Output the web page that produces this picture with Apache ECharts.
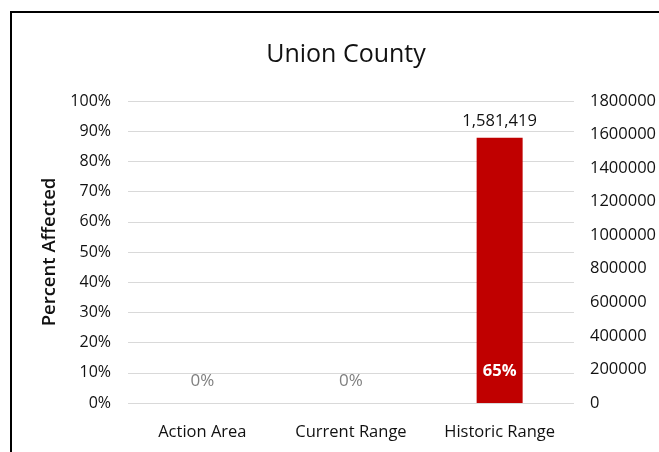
<!DOCTYPE html>
<html>
<head>
<meta charset="utf-8">
<style>
  html, body { margin: 0; padding: 0; background: #fff; }
  #chart { width: 659px; height: 452px; }
</style>
<script src="https://cdn.jsdelivr.net/npm/echarts@6/dist/echarts.min.js"></script>
</head>
<body>
<div id="chart"></div>
<script>
// Categories along the bottom axis
const categories = ['Action Area', 'Current Range', 'Historic Range'];
// Share of the area affected (left axis, fraction)
const percentAffected = [0, 0, 0.65];
// Count on the right axis
const totals = [null, null, 1581419];
// Left axis ticks (fractions) and right axis ticks
const leftTicks = [0, 0.1, 0.2, 0.3, 0.4, 0.5, 0.6, 0.7, 0.8, 0.9, 1.0];
const rightTicks = [0, 200000, 400000, 600000, 800000, 1000000, 1200000, 1400000, 1600000, 1800000];

const FONT = '"Open Sans", sans-serif';
const chart = echarts.init(document.getElementById('chart'));

chart.setOption({
  animation: false,
  textStyle: { fontFamily: FONT },
  graphic: [{
    type: 'rect',
    shape: { x: 11, y: 12, width: 720, height: 520 },
    style: { fill: 'none', stroke: '#000', lineWidth: 2 },
    silent: true
  }],
  title: {
    text: 'Union County',
    left: 341, top: 37, textAlign: 'center',
    textStyle: { fontFamily: FONT, fontSize: 25, fontWeight: 'normal', color: '#111' }
  },
  grid: { left: 128, right: 85, top: 101, bottom: 49 },
  xAxis: {
    type: 'category',
    data: categories,
    axisLine: { show: false },
    axisTick: { show: false },
    axisLabel: { color: '#111', fontSize: 16.5, margin: 21, fontFamily: FONT }
  },
  yAxis: [{
    type: 'value',
    min: leftTicks[0],
    max: leftTicks[leftTicks.length - 1],
    interval: 0.1,
    name: 'Percent Affected',
    nameLocation: 'middle',
    nameGap: 66,
    nameTextStyle: { fontSize: 18.5, fontWeight: 600, color: '#111', fontFamily: FONT },
    axisLine: { show: false },
    axisTick: { show: false },
    splitLine: { lineStyle: { color: '#d9d9d9', width: 1 } },
    axisLabel: {
      color: '#111', fontSize: 16, margin: 17, fontFamily: FONT,
      formatter: v => Math.round(v * 100) + '%'
    }
  }, {
    type: 'value',
    min: rightTicks[0],
    max: rightTicks[rightTicks.length - 1],
    interval: 200000,
    axisLine: { show: false },
    axisTick: { show: false },
    splitLine: { show: false },
    axisLabel: {
      color: '#111', fontSize: 16.5, margin: 16, fontFamily: FONT,
      formatter: v => String(v)
    }
  }],
  series: [{
    name: 'Total',
    type: 'bar',
    yAxisIndex: 1,
    barWidth: 46,
    barGap: '-100%',
    data: totals,
    itemStyle: { color: '#c00000' },
    label: {
      show: true, position: 'top', distance: 8,
      color: '#111', fontSize: 16.5, fontFamily: FONT,
      formatter: p => p.value == null ? '' : p.value.toLocaleString('en-US')
    },
    z: 2
  }, {
    name: 'Percent Affected',
    type: 'bar',
    yAxisIndex: 0,
    barWidth: 46,
    barGap: '-100%',
    data: percentAffected.map(v => ({
      value: v,
      label: v > 0
        ? { color: '#fff', fontWeight: 'bold', fontSize: 16.5, distance: 23 }
        : { color: '#7f7f7f', fontWeight: 'normal', fontSize: 17, distance: 13 }
    })),
    itemStyle: { color: 'rgba(0,0,0,0)' },
    label: {
      show: true, position: 'insideBottom',
      fontFamily: FONT,
      formatter: p => Math.round(p.value * 100) + '%'
    },
    z: 3
  }]
});
</script>
</body>
</html>
